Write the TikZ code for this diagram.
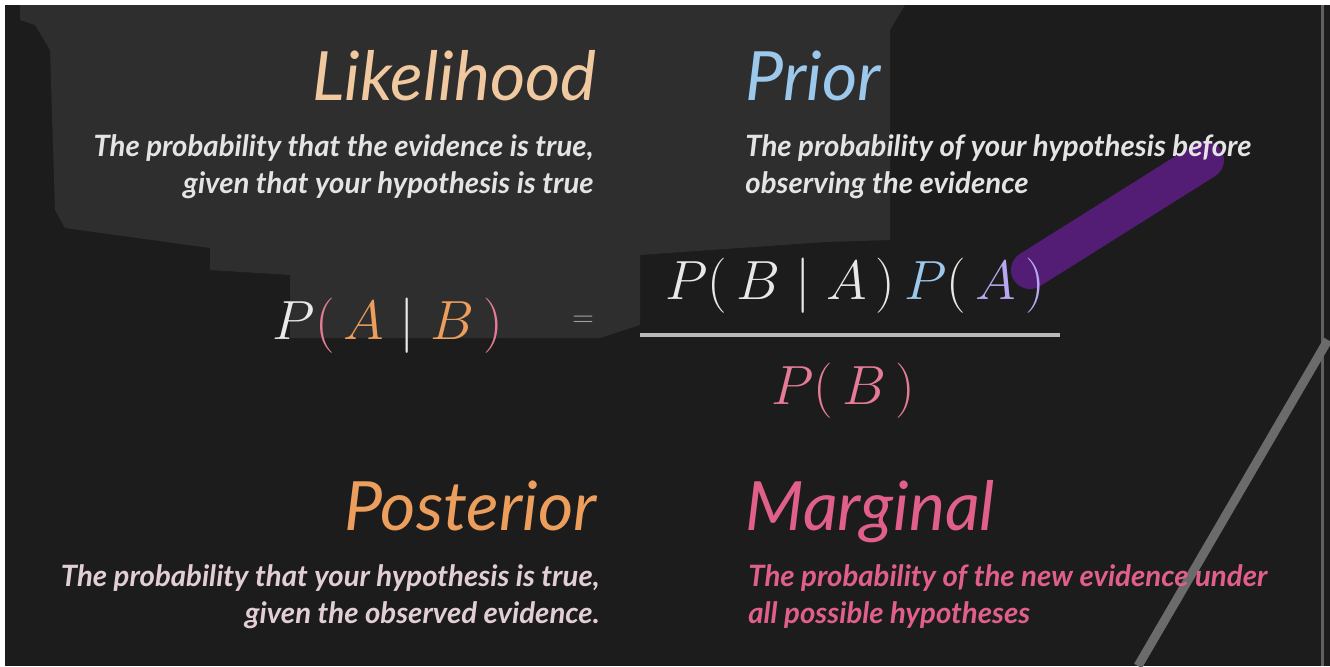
\documentclass[tikz,border=0pt]{standalone}
\usepackage{fontspec}
\setmainfont{Lato}
\usetikzlibrary{positioning}

\definecolor{bgdark}{HTML}{1C1C1C}
\definecolor{bglight}{HTML}{2E2E2E}
\definecolor{likecol}{HTML}{F1C9A0}
\definecolor{priorcol}{HTML}{9CC8EC}
\definecolor{postcol}{HTML}{EC9E5C}
\definecolor{margcol}{HTML}{E0608A}
\definecolor{desccol}{HTML}{E4E4E4}
\definecolor{postdesc}{HTML}{E2CFD5}
\definecolor{eqwhite}{HTML}{E8E8E8}
\definecolor{eqpink}{HTML}{E47C96}
\definecolor{eqlav}{HTML}{B9A6F0}
\definecolor{glow}{HTML}{8A1ED0}

% bigger math than the cm sizes allow
\newcommand{\bigmath}[1]{\scalebox{1.11}{$#1$}}

\begin{document}
\begin{tikzpicture}[x=0.5pt, y=-0.5pt,
    title/.style={font=\fontsize{34}{38}\selectfont\itshape, inner sep=0pt},
    desc/.style={font=\fontsize{14.7}{18.5}\selectfont\bfseries\itshape, inner sep=0pt},
    eqn/.style={font=\fontsize{24.88}{30}\selectfont, inner sep=0pt, text=eqwhite},
    bar/.style={eqwhite!80!black, line width=2pt},
]
\useasboundingbox (0,0) rectangle (1330,666);

% Background
\fill[white] (0,0) rectangle (1330,666);
\fill[bgdark] (5,5) rectangle (1330,666);
\fill[bglight] (20,5) -- (905,5) -- (890,30) -- (890,240) -- (825,242) -- (640,255)
    -- (640,325) -- (600,338) -- (290,338) -- (290,275) -- (210,270) -- (210,248)
    -- (65,228) -- (55,210) -- (50,50) -- (35,25) -- (20,20) -- cycle;
\draw[white!30!bgdark, line width=1.5pt] (1322,5) -- (1322,666);

% Streaks
\draw[glow, line width=19pt, line cap=round, opacity=0.5] (1205,160) -- (1030,270);
\draw[white!35!bgdark, line width=4.5pt] (1328,340) -- (1138,666);

% Titles
\node[title, text=likecol, anchor=base east] (like) at (597,100) {Likelihood};
\node[title, text=priorcol, anchor=base west] (prior) at (745,100) {Prior};
\node[title, text=postcol, anchor=base east] (post) at (597,530) {Posterior};
\node[title, text=margcol, anchor=base west] (marg) at (745,530) {Marginal};

% Descriptions
\node[desc, text=desccol, align=right, anchor=north east] (likedesc) at (594,134)
    {The probability that the evidence is true,\\given that your hypothesis is true};
\node[desc, text=desccol, align=left, anchor=north west] (priordesc) at (745,134)
    {The probability of your hypothesis before\\observing the evidence};
\node[desc, text=postdesc, align=right, anchor=north east] (postdesc) at (600,564)
    {The probability that your hypothesis is true,\\given the observed evidence.};
\node[desc, text=margcol, align=left, anchor=north west] (margdesc) at (748,564)
    {The probability of the new evidence under\\all possible hypotheses};

% Bayes rule
\node[eqn] (lhs) at (388,326)
    {\bigmath{P{\color{eqpink}(}\,{\color{postcol}A}\mid{\color{postcol}B}\,{\color{eqpink})}}};
\node[eqn, font=\fontsize{14}{14}\selectfont, text=eqwhite!70!black] (eq) at (583,321) {$=$};
\node[eqn] (num) at (855,286)
    {\bigmath{P(\,B\mid A\,)\,{\color{priorcol}P}(\,{\color{eqlav}A}\,{\color{eqlav})}}};
\coordinate (barl) at (640,335);
\coordinate (barr) at (1060,335);
\draw[bar] (barl) -- (barr);
\node[eqn, text=eqpink] (den) at (843,391) {\bigmath{P(\,B\,)}};

\end{tikzpicture}
\end{document}
